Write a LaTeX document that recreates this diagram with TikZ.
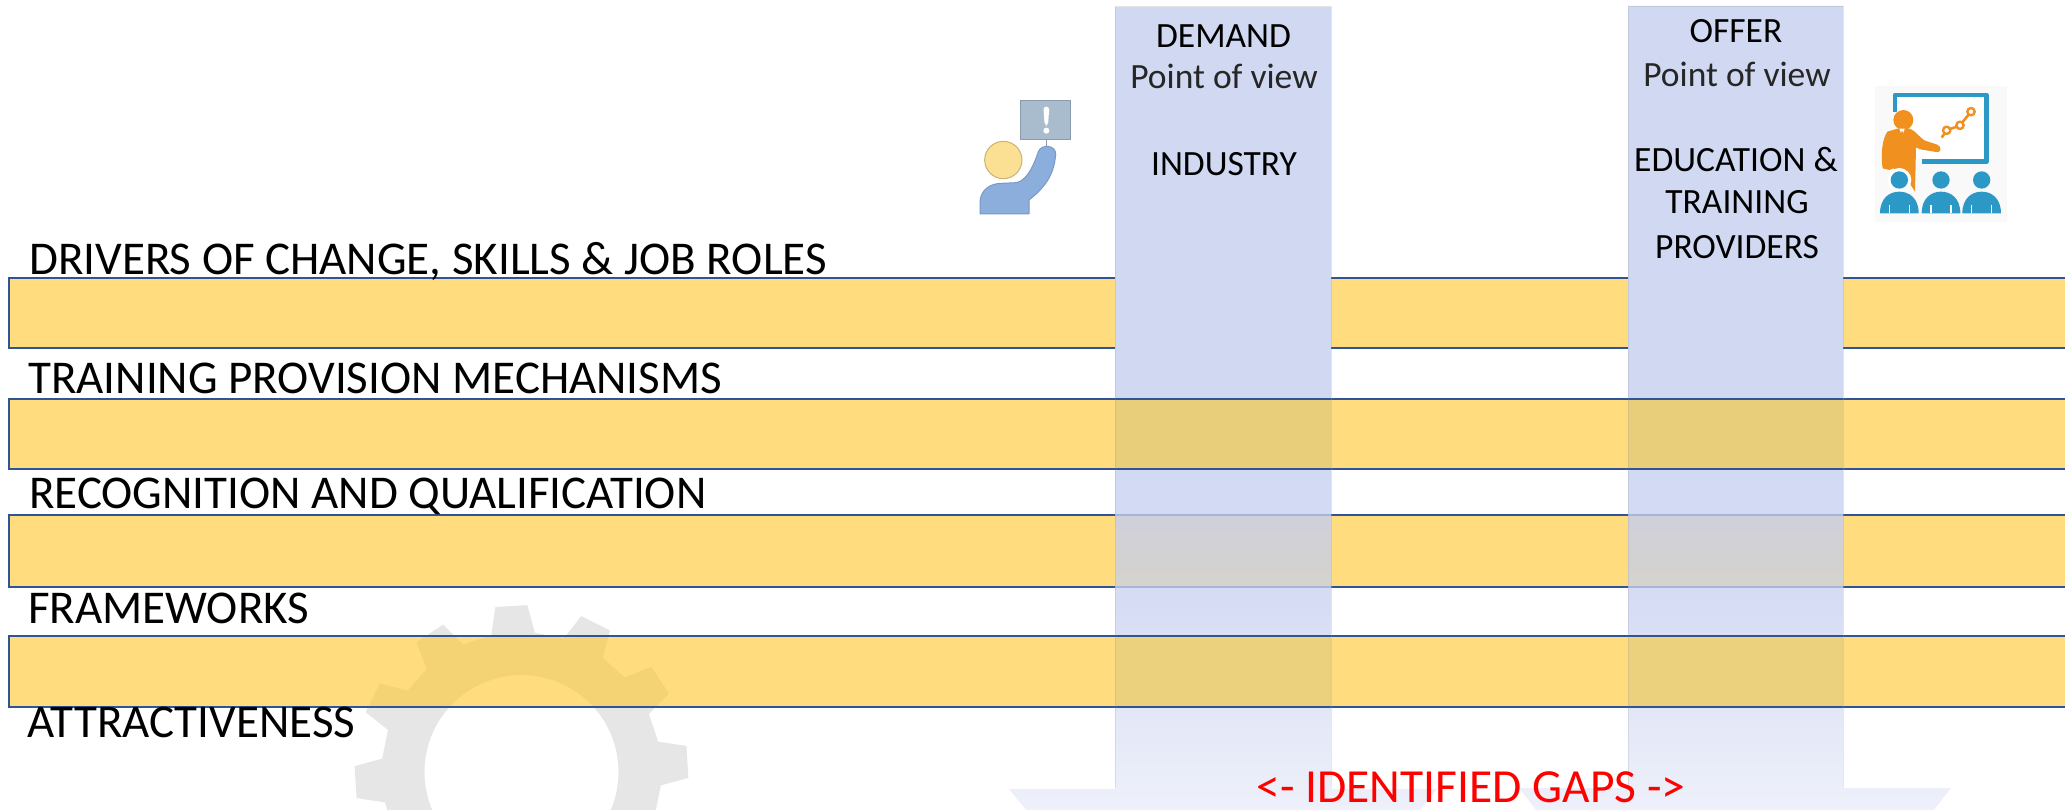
\documentclass[tikz,border=0pt]{standalone}
\usepackage{fontspec}
\setmainfont{Carlito}
\definecolor{barfill}{HTML}{FFDC7E}
\definecolor{barline}{HTML}{2F5597}
\definecolor{barlinetint}{HTML}{A8B4DC}
\definecolor{coltop}{HTML}{D0D8F2}
\definecolor{colmid}{HTML}{D6DCF4}
\definecolor{colbot}{HTML}{EEF1FA}
\definecolor{tanseg}{HTML}{E8CD7A}
\definecolor{tansegb}{HTML}{EBD17E}
\definecolor{grayt}{HTML}{CFD0DA}
\definecolor{grayb}{HTML}{D6D3CD}
\definecolor{gearc}{HTML}{E6E6E6}
\definecolor{geartint}{HTML}{F3D374}
\definecolor{iconblue}{HTML}{2C98C6}
\definecolor{iconorange}{HTML}{F0901E}
\definecolor{signfill}{HTML}{A9BCCD}
\definecolor{signline}{HTML}{8A9BAB}
\definecolor{headfill}{HTML}{FBDF93}
\definecolor{headline}{HTML}{C9B474}
\definecolor{bodyfill}{HTML}{8BAEDD}
\definecolor{bodyline}{HTML}{7A99C4}
\definecolor{iconbg}{HTML}{F9F9F9}
\pgfdeclareverticalshading{colfade}{100bp}{color(0bp)=(colbot); color(25bp)=(colbot); color(38bp)=(colmid); color(51bp)=(coltop); color(100bp)=(coltop)}
\tikzset{
  bar/.style={fill=barfill,draw=barline,line width=2.8pt},
  rowlabel/.style={anchor=base west,inner sep=0pt,font=\fontsize{47}{47}\selectfont,text=black},
  headtext/.style={anchor=base,inner sep=0pt,font=\fontsize{35.5}{35.5}\selectfont,text=black},
  headlight/.style={headtext,text=black!85},
  gaplabel/.style={anchor=base,inner sep=0pt,font=\fontsize{47.5}{47.5}\selectfont,text=red},
  segline/.style={draw=barline,line width=2.8pt},
  tintline/.style={draw=barlinetint,line width=2.8pt},
  coledge/.style={draw=black!45,line width=1pt,opacity=.2}
}
\newcommand{\gearshape}{%
  (-5.5:140) \foreach \a in {3.5,33.5,...,333.5}{
    -- ({\a-9}:140) -- ({\a-5.5}:167) -- ({\a+5.5}:167) -- ({\a+9}:140)
  } -- cycle (0:97) arc[start angle=0,end angle=360,radius=97]}
\begin{document}
\begin{tikzpicture}[x=1pt,y=-1pt]
\useasboundingbox (0,0) rectangle (2065,810);
\clip (0,0) rectangle (2065,810);
% gear
\begin{scope}[shift={(521.5,772)},x=1pt,y=1pt]
  \fill[gearc,even odd rule] \gearshape;
\end{scope}
% bars
\path[bar] (9,278) rectangle (2080,348);
\path[bar] (9,399) rectangle (2080,469);
\path[bar] (9,515) rectangle (2080,587);
\path[fill=barfill] (9,636) rectangle (2080,707);
\begin{scope}
  \clip (9,636) rectangle (2080,707);
  \begin{scope}[shift={(521.5,772)},x=1pt,y=1pt]
    \fill[geartint,even odd rule] \gearshape;
  \end{scope}
\end{scope}
\path[bar,fill=none] (9,636) rectangle (2080,707);
% columns with arrow heads
\shade[shading=colfade] (1115,7) -- (1331,7) -- (1331,789) -- (1437,789) -- (1420,810) -- (1026,810) -- (1009,789) -- (1115,789) -- cycle;
\shade[shading=colfade] (1628,6) -- (1843,6) -- (1843,788) -- (1951,788) -- (1934,810) -- (1536,810) -- (1519,788) -- (1628,788) -- cycle;
% band segments seen through the columns
\foreach \xa/\xb in {1115/1331,1628/1843}{
  \fill[tanseg] (\xa,399) rectangle (\xb,469);
  \draw[segline] (\xa,399) -- (\xb,399) (\xa,469) -- (\xb,469);
  \shade[top color=grayt,bottom color=grayb] (\xa,515) rectangle (\xb,587);
  \draw[tintline] (\xa,515) -- (\xb,515) (\xa,587) -- (\xb,587);
  \fill[tansegb] (\xa,636) rectangle (\xb,707);
  \draw[segline] (\xa,636) -- (\xb,636) (\xa,707) -- (\xb,707);
  \draw[coledge] (\xa,788) -- (\xa,7) -- (\xb,7) -- (\xb,788);
}
% person with sign
\begin{scope}[shift={(960,90)},x=.3333pt,y=-.3333pt,line join=round]
  \draw[signline,line width=1pt] (258,148) -- (258,172);
  \path[fill=signfill,draw=signline,line width=1pt] (180,33) rectangle (332,148);
  \fill[white,rounded corners=3pt] (250,50) -- (268,50) -- (264,106) -- (254,106) -- cycle;
  \fill[white] (259,122) circle[radius=9];
  \path[fill=headfill,draw=headline,line width=1pt] (130,210) circle[radius=56];
  \path[fill=bodyfill,draw=bodyline,line width=1pt] (60,372) -- (60,335) .. controls (62,300) and (90,280) .. (125,280) -- (170,278) .. controls (205,270) and (225,215) .. (235,185) .. controls (245,160) and (290,165) .. (287,195) .. controls (282,245) and (265,285) .. (207,330) -- (207,372) -- cycle;
\end{scope}
% teacher and class
\begin{scope}[shift={(1860,70)},x=.3333pt,y=-.3333pt,line join=round]
  \fill[iconbg] (45,47) rectangle (440,455);
  \fill[white] (112,82) rectangle (374,268);
  \draw[iconblue,line width=4.4pt] (105,125) -- (105,75) -- (380,75) -- (380,275) -- (185,275);
  \fill[iconorange] (130,150) circle[radius=30];
  \fill[iconorange] (82,185) -- (112,176) -- (150,176) .. controls (170,185) and (180,205) .. (195,212) -- (232,224) .. controls (246,230) and (245,250) .. (228,246) -- (180,238) -- (168,232) -- (165,365) -- (130,310) -- (100,295) -- (88,300) -- (68,295) .. controls (62,260) and (65,210) .. (82,185) -- cycle;
  \fill[white] (118,176) -- (134,176) -- (127,200) -- cycle;
  \fill[iconorange] (124,184) -- (130,184) -- (131,198) -- (127,204) -- (123,198) -- cycle;
  \draw[iconorange,line width=2.6pt] (245,203) -- (260,181) -- (300,166) -- (333,125);
  \foreach \px/\py in {260/181,300/166,333/125}{
    \path[fill=white,draw=iconorange,line width=2.4pt] (\px,\py) circle[radius=11];
  }
  \fill[white] (118,330) circle[radius=36];
  \foreach \cx in {118,243,365}{
    \fill[iconblue] (\cx,330) circle[radius=26];
    \fill[iconblue] (\cx-58,430) .. controls (\cx-58,385) and (\cx-30,365) .. (\cx,365) .. controls (\cx+30,365) and (\cx+58,385) .. (\cx+58,430) -- cycle;
    \draw[white,line width=1.4pt] (\cx-30,430) -- (\cx-30,405) (\cx+30,430) -- (\cx+30,405);
  }
\end{scope}
% labels
\node[rowlabel] (drivers) at (29,275) {DRIVERS OF CHANGE, SKILLS \& JOB ROLES};
\node[rowlabel] (training) at (28,393) {TRAINING PROVISION MECHANISMS};
\node[rowlabel] (recognition) at (29,508) {RECOGNITION AND QUALIFICATION};
\node[rowlabel] (frameworks) at (28,623) {FRAMEWORKS};
\node[rowlabel] (attract) at (27,737) {ATTRACTIVENESS};
\node[headtext] (demand) at (1223.5,48) {DEMAND};
\node[headlight] (pov1) at (1224,89) {Point of view};
\node[headtext] (industry) at (1224,176) {INDUSTRY};
\node[headtext] (offer) at (1736,43) {OFFER};
\node[headlight] (pov2) at (1737,87) {Point of view};
\node[headtext] (education) at (1736,172) {EDUCATION \&};
\node[headtext] (trainingp) at (1737,214) {TRAINING};
\node[headtext] (providers) at (1737,259) {PROVIDERS};
\node[gaplabel] (gaps) at (1471,802) {<- IDENTIFIED GAPS ->};
\end{tikzpicture}
\end{document}
